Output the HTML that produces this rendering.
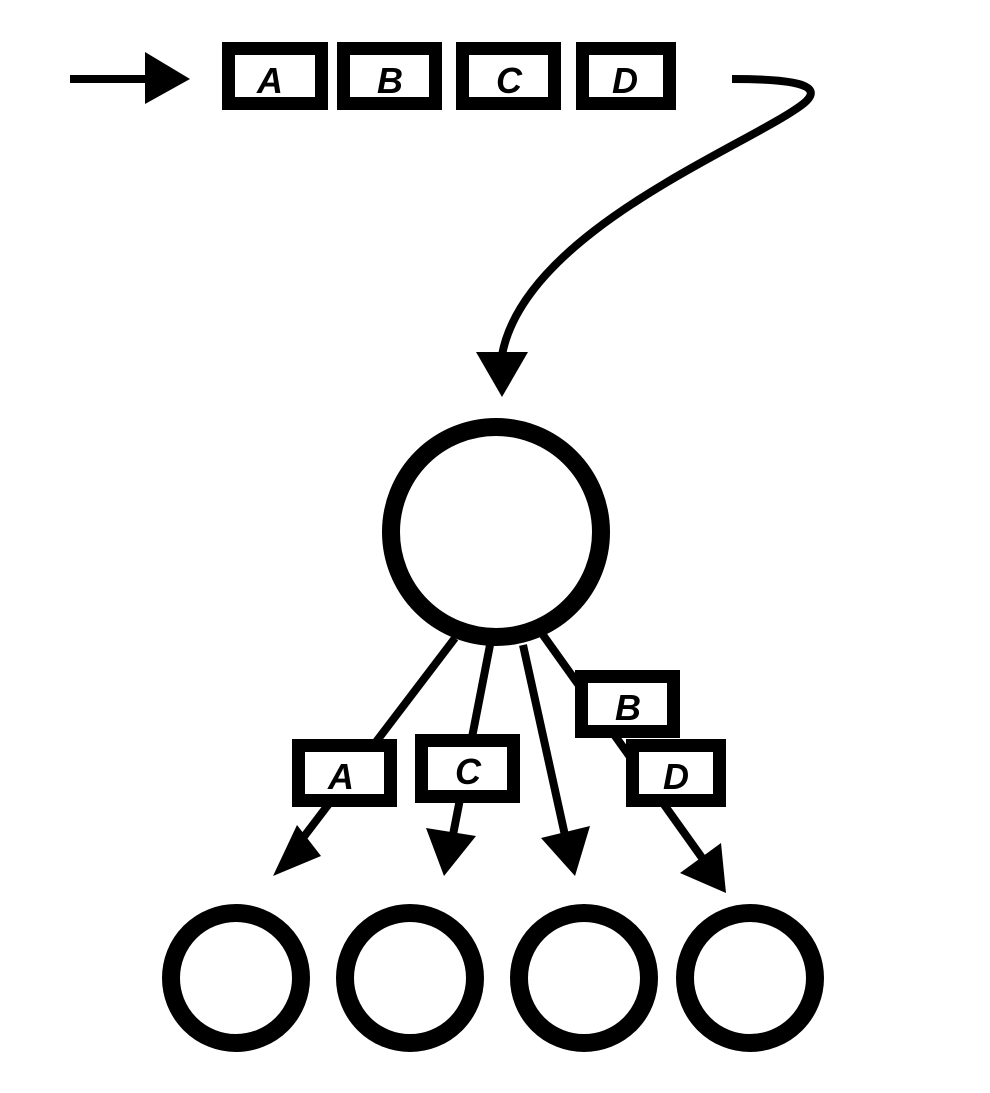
<!DOCTYPE html>
<html><head><style>
html,body{margin:0;padding:0;background:#fff}
svg text{font-family:"Liberation Sans",sans-serif;font-weight:bold;font-style:italic;font-size:36px;text-anchor:middle}
</style></head><body>
<svg width="990" height="1088" viewBox="0 0 990 1088" xmlns="http://www.w3.org/2000/svg">
<g fill="none" stroke="#000">
<line x1="70" y1="79" x2="150" y2="79" stroke-width="8"/>
<path d="M732,79 C790,79 828,84 803,104 C750,145 525,230 502,355" stroke-width="8"/>
<circle cx="496" cy="532" r="105" stroke-width="18"/>
<circle cx="236" cy="978" r="65" stroke-width="18"/>
<circle cx="410" cy="978" r="65" stroke-width="18"/>
<circle cx="584" cy="978" r="65" stroke-width="18"/>
<circle cx="750" cy="978" r="65" stroke-width="18"/>
<g stroke-width="8">
<line x1="455" y1="638" x2="290" y2="855"/>
<line x1="490" y1="645" x2="452" y2="840"/>
<line x1="523" y1="645" x2="566" y2="840"/>
<line x1="543" y1="635" x2="705" y2="862"/>
</g>
</g>
<g fill="#000">
<polygon points="145,52 190,79 145,104"/>
<polygon points="476,352 528,352 502,397"/>
<polygon points="297,825 321,856 273,876"/>
<polygon points="426,828 476,836 444,876"/>
<polygon points="541,838 590,826 575,876"/>
<polygon points="680,873 721,843 726,893"/>
</g>
<g fill="#fff" stroke="#000" stroke-width="13">
<rect x="228.5" y="48.5" width="93" height="55"/>
<rect x="343.5" y="48.5" width="92" height="55"/>
<rect x="462.5" y="48.5" width="92" height="55"/>
<rect x="582.5" y="48.5" width="87" height="55"/>
<rect x="298.5" y="745.5" width="92" height="55"/>
<rect x="421.5" y="740.5" width="92" height="56"/>
<rect x="581.5" y="676.5" width="92" height="55"/>
<rect x="632.5" y="745.5" width="87" height="55"/>
</g>
<g fill="#000">
<text x="270" y="93">A</text>
<text x="390" y="93">B</text>
<text x="509" y="93">C</text>
<text x="625" y="93">D</text>
<text x="341" y="789">A</text>
<text x="468" y="784">C</text>
<text x="628" y="720">B</text>
<text x="676" y="789">D</text>
</g>
</svg>
</body></html>
